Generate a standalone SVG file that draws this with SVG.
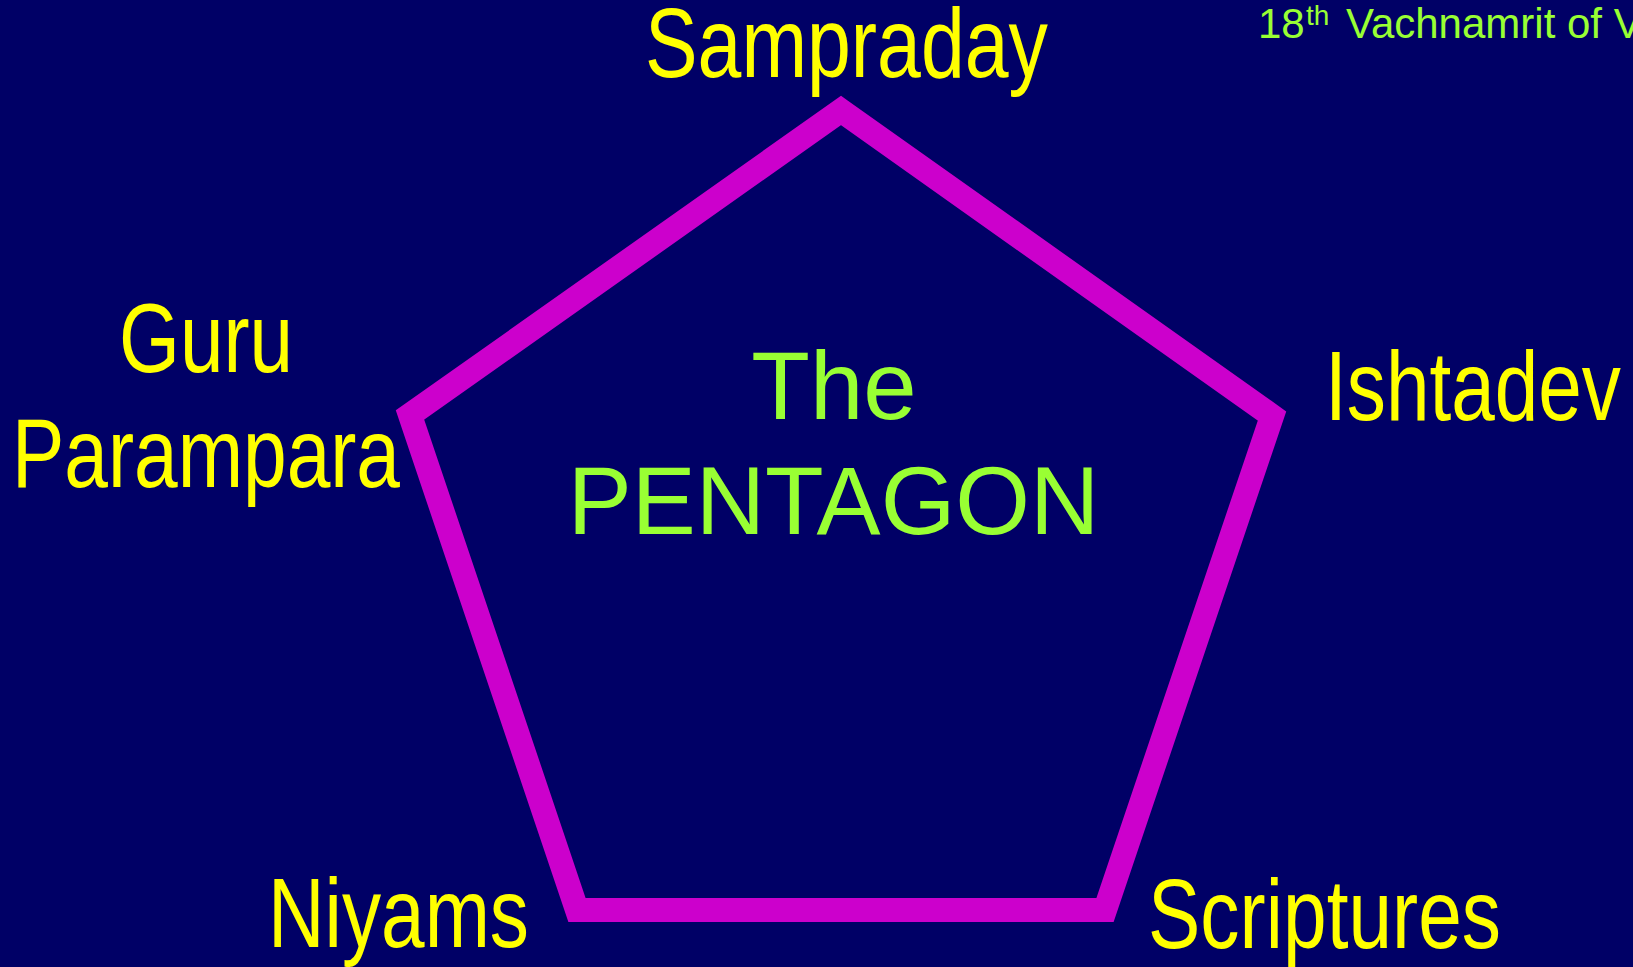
<svg xmlns="http://www.w3.org/2000/svg" width="1633" height="967" viewBox="0 0 1633 967">
<style>
.lbl{font-family:"Liberation Sans",Arial,sans-serif;font-size:98px;fill:#FFFF00}
.grn{font-family:"Liberation Sans",Arial,sans-serif;fill:#99FF33}
.edge{fill:none;stroke:#CC00CC;stroke-width:24;stroke-linejoin:miter;stroke-miterlimit:10}
</style>
<rect x="0" y="0" width="1633" height="967" fill="#000066"/>
<g id="connectors">
<polygon class="edge" points="841,110.5 1272,416 1105,910 577,910 410,415"/>
</g>
<g id="title">
<text class="grn" font-size="96" x="834" y="419" text-anchor="middle">The</text>
<text class="grn" font-size="96" x="833.5" y="534" text-anchor="middle">PENTAGON</text>
</g>
<g id="header">
<text class="grn" font-size="42" y="38"><tspan x="1258">18</tspan><tspan x="1306" y="25" font-size="28">th</tspan><tspan x="1346" y="38">Vachnamrit of V</tspan></text>
</g>
<g id="sampraday">
<text class="lbl" x="645" y="77" textLength="403" lengthAdjust="spacingAndGlyphs">Sampraday</text>
</g>
<g id="ishtadev">
<text class="lbl" x="1325" y="420" textLength="296" lengthAdjust="spacingAndGlyphs">Ishtadev</text>
</g>
<g id="scriptures">
<text class="lbl" x="1148" y="948" textLength="353" lengthAdjust="spacingAndGlyphs">Scriptures</text>
</g>
<g id="niyams">
<text class="lbl" x="268" y="947" textLength="261" lengthAdjust="spacingAndGlyphs">Niyams</text>
</g>
<g id="guru-parampara">
<text class="lbl" x="206" y="372" text-anchor="middle" textLength="174" lengthAdjust="spacingAndGlyphs">Guru</text>
<text class="lbl" x="12" y="487" textLength="388" lengthAdjust="spacingAndGlyphs">Parampara</text>
</g>
</svg>
